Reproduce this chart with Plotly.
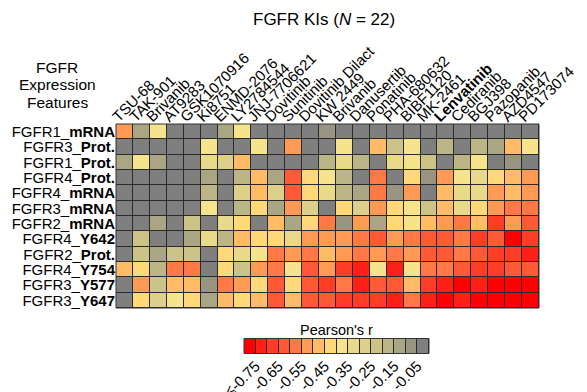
import plotly.graph_objects as go

# Kinase inhibitors (columns, left to right)
drugs = ["TSU-68", "TAK-901", "Brivanib", "AT9283", "GSK1070916", "Ki8751",
         "ENMD-2076", "LY2784544", "JNJ-7706621", "Dovitinib", "Sunitinib",
         "Dovitinib Dilact", "KW 2449", "Brivanib", "Danusertib", "Ponatinib",
         "PHA-680632", "BIBF1120", "MK-2461", "Lenvatinib", "Cediranib",
         "BGJ398", "Pazopanib", "AZD4547", "PD173074"]
highlight_drug = "Lenvatinib"

# Expression features (rows, top to bottom): receptor + measurement type
feature_gene = ["FGFR1", "FGFR3", "FGFR1", "FGFR4", "FGFR4", "FGFR3",
                "FGFR2", "FGFR4", "FGFR2", "FGFR4", "FGFR3", "FGFR3"]
feature_kind = ["mRNA", "Prot.", "Prot.", "Prot.", "mRNA", "mRNA",
                "mRNA", "Y642", "Prot.", "Y754", "Y577", "Y647"]

# Pearson's r between feature and drug sensitivity (one row per feature)
pearson_r = [
    [-0.53, -0.13, -0.38, 0.00, 0.00, 0.00, -0.13, -0.37, 0.00, 0.00, 0.00, 0.00, -0.07,
     0.00, 0.00, 0.00, 0.00, 0.00, 0.00, 0.00, 0.00, 0.00, 0.00, 0.00, 0.00],
    [0.00, 0.00, 0.00, 0.00, 0.00, -0.38, 0.00, 0.00, -0.38, 0.00, -0.52, 0.00, 0.00,
     -0.38, 0.00, -0.46, -0.23, -0.38, 0.00, -0.18, 0.00, -0.18, -0.13, -0.47, -0.38],
    [-0.13, -0.38, -0.13, 0.00, 0.00, -0.31, -0.26, -0.46, 0.00, 0.00, 0.00, 0.00, -0.18,
     -0.32, -0.18, 0.00, -0.32, -0.37, -0.23, 0.00, -0.17, -0.37, 0.00, -0.08, 0.00],
    [0.00, 0.00, 0.00, 0.00, 0.00, -0.13, 0.00, -0.18, -0.47, -0.12, -0.62, -0.42, -0.37,
     -0.18, 0.00, -0.57, 0.00, -0.43, -0.08, -0.52, -0.37, -0.32, -0.43, -0.47, -0.52],
    [0.00, 0.00, 0.00, 0.00, 0.00, -0.18, 0.00, -0.26, -0.47, -0.27, -0.63, -0.42, -0.32,
     -0.19, -0.13, -0.57, -0.08, -0.53, 0.00, -0.46, -0.32, -0.31, -0.51, -0.46, -0.53],
    [0.00, 0.00, 0.00, 0.00, 0.00, -0.38, 0.00, -0.18, -0.43, -0.13, -0.53, -0.26, 0.00,
     -0.43, -0.26, -0.53, -0.42, -0.38, -0.23, -0.46, -0.33, -0.43, -0.51, -0.58, -0.57],
    [0.00, 0.00, -0.13, 0.00, -0.23, 0.00, -0.31, -0.43, 0.00, -0.46, -0.12, -0.43, -0.58,
     -0.08, -0.51, -0.11, -0.41, -0.38, -0.47, -0.51, -0.58, -0.47, -0.68, -0.51, -0.62],
    [0.00, -0.21, 0.00, 0.00, -0.13, -0.33, -0.18, -0.48, -0.41, -0.42, -0.33, -0.51, -0.53,
     -0.53, -0.57, -0.61, -0.51, -0.58, -0.63, -0.63, -0.58, -0.68, -0.61, -0.76, -0.68],
    [0.00, -0.21, -0.13, -0.23, -0.21, 0.00, -0.41, -0.33, -0.38, -0.58, -0.53, -0.57, -0.46,
     -0.53, -0.57, -0.51, -0.58, -0.52, -0.62, -0.63, -0.58, -0.64, -0.67, -0.68, -0.72],
    [-0.46, -0.43, -0.18, -0.58, -0.57, 0.00, -0.43, -0.21, -0.51, -0.58, -0.38, -0.63, -0.53,
     -0.66, -0.72, -0.38, -0.72, -0.38, -0.58, -0.57, -0.63, -0.67, -0.66, -0.64, -0.63],
    [0.00, -0.51, -0.23, -0.47, -0.46, -0.08, -0.58, -0.51, -0.41, -0.63, -0.41, -0.62, -0.68,
     -0.58, -0.72, -0.63, -0.64, -0.47, -0.68, -0.73, -0.78, -0.73, -0.78, -0.78, -0.78],
    [0.00, -0.43, -0.26, -0.38, -0.42, -0.13, -0.48, -0.43, -0.46, -0.62, -0.48, -0.64, -0.62,
     -0.66, -0.68, -0.67, -0.72, -0.58, -0.74, -0.78, -0.73, -0.78, -0.78, -0.78, -0.78],
]

# Binned colour key: bin edges, one colour per bin, labelled edges
r_bin_edges = [-0.80, -0.75, -0.70, -0.65, -0.60, -0.55, -0.50, -0.45, -0.40,
               -0.35, -0.30, -0.25, -0.20, -0.15, -0.10, -0.05, 0.00]
r_bin_colors = ["#ff0000", "#ff2015", "#ff3c25", "#ff5a35", "#ff7845", "#ff9a55",
                "#ffbb66", "#ffd878", "#f5e48c", "#e8da8a", "#dcd08a", "#ccc388",
                "#bcb585", "#aaa582", "#989481", "#7f7f7f"]
key_tick_values = [-0.75, -0.65, -0.55, -0.45, -0.35, -0.25, -0.15, -0.05]
key_tick_text = ["≤-0.75", "-0.65", "-0.55", "-0.45", "-0.35", "-0.25", "-0.15", "-0.05"]

FONT = "Liberation Sans, Arial, Helvetica, sans-serif"
W, H = 587, 392

n_bins = len(r_bin_colors)
colorscale = []
for k, c in enumerate(r_bin_colors):
    colorscale.append([k / n_bins, c])
    colorscale.append([(k + 1) / n_bins, c])
zmin, zmax = r_bin_edges[0], r_bin_edges[-1]

col_text = [f"<b>{d}</b>" if d == highlight_drug else d for d in drugs]
row_text = [f"{g}_<b>{k}</b>" for g, k in zip(feature_gene, feature_kind)]

fig = go.Figure()
fig.add_trace(go.Heatmap(
    z=pearson_r, x=list(range(len(drugs))), y=list(range(len(row_text))),
    colorscale=colorscale, zmin=zmin, zmax=zmax, showscale=False,
    xgap=1, ygap=1, xaxis="x", yaxis="y", hoverinfo="skip",
))

# Colour key drawn as a one-row heatmap over the bin edges
key_mid = [(a + b) / 2 for a, b in zip(r_bin_edges[:-1], r_bin_edges[1:])]
fig.add_trace(go.Heatmap(
    z=[key_mid], x=r_bin_edges, y=[0, 1],
    colorscale=colorscale, zmin=zmin, zmax=zmax, showscale=False,
    xgap=1, xaxis="x2", yaxis="y2", hoverinfo="skip",
))

heat_x = [116 / W, 539 / W]
heat_y = [1 - 308 / H, 1 - 124 / H]
key_x = [244 / W, 429 / W]
key_y = [1 - 353.5 / H, 1 - 338.5 / H]

common = dict(ticks="", showgrid=False, zeroline=False, showline=False,
              automargin=False, ticklabeloverflow="allow")

fig.update_layout(
    width=W, height=H, margin=dict(l=0, r=0, t=0, b=0),
    paper_bgcolor="white", plot_bgcolor="#2a2a2a",
    font=dict(family=FONT, size=15, color="black"),
    xaxis=dict(domain=heat_x, anchor="y", side="top", range=[-0.5, len(drugs) - 0.5],
               tickvals=list(range(len(drugs))), ticktext=col_text, tickangle=-45,
               ticklabelshift=-11, ticklabelstandoff=-5,
               tickfont=dict(size=15), **common),
    yaxis=dict(domain=heat_y, anchor="x", range=[len(row_text) - 0.5, -0.5],
               tickvals=list(range(len(row_text))), ticktext=row_text,
               tickfont=dict(size=15), **common),
    xaxis2=dict(domain=key_x, anchor="y2", range=[zmin, zmax],
                tickvals=key_tick_values, ticktext=key_tick_text, tickangle=-45,
                tickfont=dict(size=15), **common),
    yaxis2=dict(domain=key_y, anchor="x2", range=[0, 1], showticklabels=False, **common),
)

fig.add_shape(type="rect", xref="x domain", yref="y domain", x0=0, x1=1, y0=0, y1=1,
              line=dict(color="#333333", width=1), fillcolor="rgba(0,0,0,0)")
fig.add_shape(type="rect", xref="x2 domain", yref="y2 domain", x0=0, x1=1, y0=0, y1=1,
              line=dict(color="#333333", width=1), fillcolor="rgba(0,0,0,0)")

fig.add_annotation(text="FGFR KIs (<i>N</i> = 22)", xref="paper", yref="paper",
                   x=324 / W, y=1 - 20 / H, showarrow=False, xanchor="center",
                   yanchor="middle", font=dict(size=17))
for line, yy in zip(["FGFR", "Expression", "Features"], [67, 84.5, 102]):
    fig.add_annotation(text=line, xref="paper", yref="paper", x=57 / W, y=1 - yy / H,
                       showarrow=False, xanchor="center", yanchor="middle",
                       font=dict(size=15.5))
fig.add_annotation(text="Pearson's r", xref="paper", yref="paper",
                   x=(key_x[0] + key_x[1]) / 2, y=1 - 330 / H, showarrow=False,
                   xanchor="center", yanchor="middle", font=dict(size=14.5))

fig.write_html("out.html")
